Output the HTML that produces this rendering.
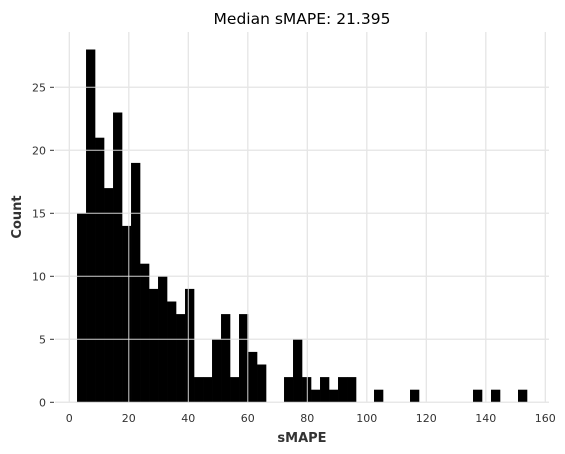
<!DOCTYPE html>
<html><head><meta charset="utf-8"><style>
body{margin:0;background:#fff;}
svg{display:block;font-family:"DejaVu Sans","Liberation Sans",sans-serif;}
</style></head><body>
<svg id="chart" width="565" height="454">
<text x="302" y="24" text-anchor="middle" font-size="15.5" fill="#000">Median sMAPE: 21.395</text>
<g id="grid"></g><g id="bars"></g><g id="axes"></g>
<text x="302" y="442" text-anchor="middle" font-size="13" font-weight="bold" fill="#333">sMAPE</text>
<text x="21" y="217" text-anchor="middle" font-size="13" font-weight="bold" fill="#333" transform="rotate(-90 21 217)">Count</text>
</svg>
<script>
const binStart = 2.6;
const binWidth = 3.025;
const counts = [15,28,21,17,23,14,19,11,9,10,8,7,9,2,2,5,7,2,7,4,3,0,0,2,5,2,1,2,1,2,2,0,0,1,0,0,0,1,0,0,0,0,0,0,1,0,1,0,0,1];
const xTicks = [0,20,40,60,80,100,120,140,160];
const yTicks = [0,5,10,15,20,25];
const NS="http://www.w3.org/2000/svg";
function xs(v){return 69.3+v*2.975;}
function ys(v){return 402.3-v*12.6;}
const grid=document.getElementById('grid'),bars=document.getElementById('bars'),axes=document.getElementById('axes');
function mk(tag,attrs,parent){const e=document.createElementNS(NS,tag);for(const k in attrs)e.setAttribute(k,attrs[k]);parent.appendChild(e);return e;}
xTicks.forEach(t=>{
  const l=mk('line',{x1:xs(t),x2:xs(t),y1:32,y2:402.3,stroke:'#dcdcdc','stroke-width':1},grid);
  
  
  const tx=mk('text',{x:xs(t),y:422,'text-anchor':'middle','font-size':11,fill:'#333'},axes);
  tx.textContent=t;
  
  
});
yTicks.forEach(t=>{
  const l=mk('line',{x1:55,x2:549,y1:ys(t),y2:ys(t),stroke:'#dcdcdc','stroke-width':1},grid);
  
  
  const tk=mk('line',{x1:50,x2:54,y1:ys(t),y2:ys(t),stroke:'#333','stroke-width':1},axes);
  
  
  const tx=mk('text',{x:46,y:ys(t)+4,'text-anchor':'end','font-size':11,fill:'#333'},axes);
  tx.textContent=t;
  
  
});
counts.forEach((c,i)=>{
  if(c<=0)return;
  const x0=xs(binStart+i*binWidth),x1=xs(binStart+(i+1)*binWidth);
  const r=mk('rect',{x:x0,y:ys(c),width:x1-x0+0.3,height:ys(0)-ys(c),fill:'#000'},bars);
  
  
});
xTicks.forEach(t=>{
  const l=mk('line',{x1:xs(t),x2:xs(t),y1:32,y2:402.3,stroke:'#e6e6e6','stroke-width':1,'stroke-opacity':0.9},bars);
  
  
});
yTicks.forEach(t=>{
  const l=mk('line',{x1:55,x2:549,y1:ys(t),y2:ys(t),stroke:'#e6e6e6','stroke-width':1,'stroke-opacity':0.9},bars);
  
  
});
</script>
</body></html>
